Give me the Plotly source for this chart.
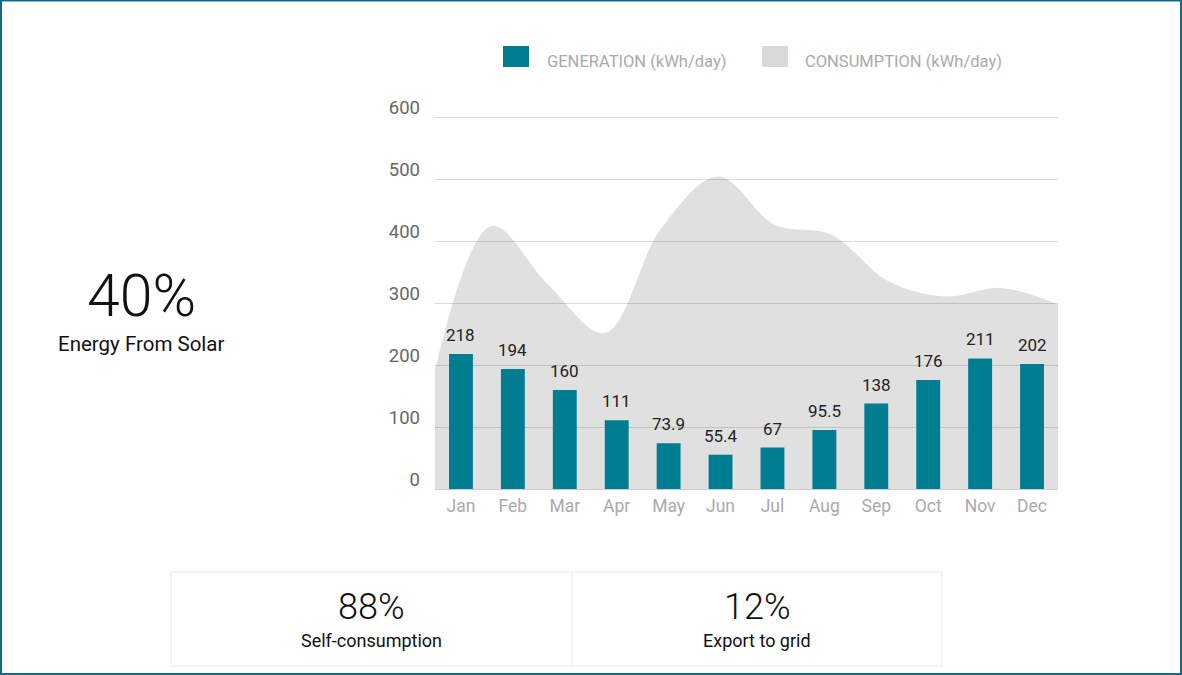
import plotly.graph_objects as go

months = ["Jan", "Feb", "Mar", "Apr", "May", "Jun", "Jul", "Aug", "Sep", "Oct", "Nov", "Dec"]
generation = [218, 194, 160, 111, 73.9, 55.4, 67, 95.5, 138, 176, 211, 202]
consumption = [193, 425, 330, 252, 422, 505, 427, 411, 336, 311, 325, 298]
y_ticks = [0, 100, 200, 300, 400, 500, 600]
gen_labels = ["218", "194", "160", "111", "73.9", "55.4", "67", "95.5", "138", "176", "211", "202"]

W, H = 1182, 675
L, R, T, B = 435, 1058, 114, 489
pw, ph = R - L, B - T


def px(x):
    return (x - L) / pw


def py(y):
    return (B - y) / ph


FONT = "Roboto"
TEAL = "#007d91"

fig = go.Figure()

# consumption area on its own hidden numeric axis spanning plot width
fig.add_trace(go.Scatter(
    x=list(range(len(consumption))), y=consumption,
    xaxis="x", yaxis="y",
    mode="lines", line=dict(width=0, shape="spline", smoothing=1.0, color="rgba(0,0,0,0)"),
    fill="tozeroy", fillcolor="rgba(0,0,0,0.12)",
    hoverinfo="skip", showlegend=False,
))

# generation bars on category axis
fig.add_trace(go.Bar(
    x=months, y=generation, xaxis="x2", yaxis="y",
    marker=dict(color=TEAL, line=dict(width=0)),
    width=0.46, showlegend=False,
))

annotations = []
for m, v, lab in zip(months, generation, gen_labels):
    annotations.append(dict(
        x=m, y=v, xref="x2", yref="y", text=lab, showarrow=False,
        yanchor="bottom", yshift=7,
        font=dict(family=FONT, size=17, color="#222222"),
    ))

# legend (manual)
shapes = [
    dict(type="rect", xref="paper", yref="paper",
         x0=px(503), x1=px(529), y0=py(67), y1=py(46),
         fillcolor=TEAL, line=dict(width=0)),
    dict(type="rect", xref="paper", yref="paper",
         x0=px(762), x1=px(788), y0=py(67), y1=py(46),
         fillcolor="#d9d9d9", line=dict(width=0)),
]
annotations += [
    dict(x=px(545), y=py(61), xref="paper", yref="paper", xanchor="left", yanchor="middle",
         text="GENERATION (kWh/day)", showarrow=False,
         font=dict(family=FONT, size=16.5, color="#aaaaaa")),
    dict(x=px(803), y=py(61), xref="paper", yref="paper", xanchor="left", yanchor="middle",
         text="CONSUMPTION (kWh/day)", showarrow=False,
         font=dict(family=FONT, size=16.5, color="#aaaaaa")),
]

# left KPI
annotations += [
    dict(x=px(141), y=py(295), xref="paper", yref="paper", xanchor="center", yanchor="middle",
         text="40%", showarrow=False, font=dict(family=FONT, size=59, color="#111111", weight=300)),
    dict(x=px(141), y=py(344), xref="paper", yref="paper", xanchor="center", yanchor="middle",
         text="Energy From Solar", showarrow=False, font=dict(family=FONT, size=20.5, color="#111111")),
]

# bottom boxes
shapes += [
    dict(type="rect", xref="paper", yref="paper",
         x0=px(171), x1=px(942), y0=py(666), y1=py(572),
         fillcolor="rgba(0,0,0,0)", line=dict(width=1, color="#ebebeb")),
    dict(type="line", xref="paper", yref="paper",
         x0=px(572), x1=px(572), y0=py(666), y1=py(572),
         line=dict(width=1, color="#ebebeb")),
]
annotations += [
    dict(x=px(371), y=py(607), xref="paper", yref="paper", xanchor="center", yanchor="middle",
         text="88%", showarrow=False, font=dict(family=FONT, size=36, color="#111111", weight=300)),
    dict(x=px(371), y=py(640), xref="paper", yref="paper", xanchor="center", yanchor="middle",
         text="Self-consumption", showarrow=False, font=dict(family=FONT, size=18, color="#111111")),
    dict(x=px(757), y=py(607), xref="paper", yref="paper", xanchor="center", yanchor="middle",
         text="12%", showarrow=False, font=dict(family=FONT, size=36, color="#111111", weight=300)),
    dict(x=px(757), y=py(640), xref="paper", yref="paper", xanchor="center", yanchor="middle",
         text="Export to grid", showarrow=False, font=dict(family=FONT, size=18, color="#111111")),
]

# outer border
shapes.append(dict(type="rect", xref="paper", yref="paper",
                   x0=px(1), x1=px(1181), y0=py(674), y1=py(0.5),
                   fillcolor="rgba(0,0,0,0)", line=dict(width=2, color="#13698c")))

fig.update_layout(
    width=W, height=H,
    margin=dict(l=L, r=W - R, t=T, b=H - B, autoexpand=False),
    paper_bgcolor="white", plot_bgcolor="white",
    font=dict(family=FONT),
    showlegend=False,
    xaxis=dict(range=[0, len(consumption) - 1], visible=False, showgrid=False, zeroline=False),
    xaxis2=dict(overlaying="x", side="bottom", type="category", range=[-0.5, 11.5],
                showgrid=False, zeroline=False, showline=True, linecolor="#cccccc", linewidth=1,
                ticks="", tickfont=dict(family=FONT, size=17.5, color="#aaaaaa"),
                ticklabelstandoff=1),
    yaxis=dict(range=[0, 606], tickvals=y_ticks, showgrid=True, gridcolor="#dcdcdc", gridwidth=1,
               zeroline=False, showline=False, ticks="",
               ticklabelposition="outside top", ticklabelshift=3,
               tickfont=dict(family=FONT, size=18.5, color="#666666"),
               ticklabelstandoff=14),
    shapes=shapes, annotations=annotations,
    bargap=0.5,
)

fig.write_html("out.html")
